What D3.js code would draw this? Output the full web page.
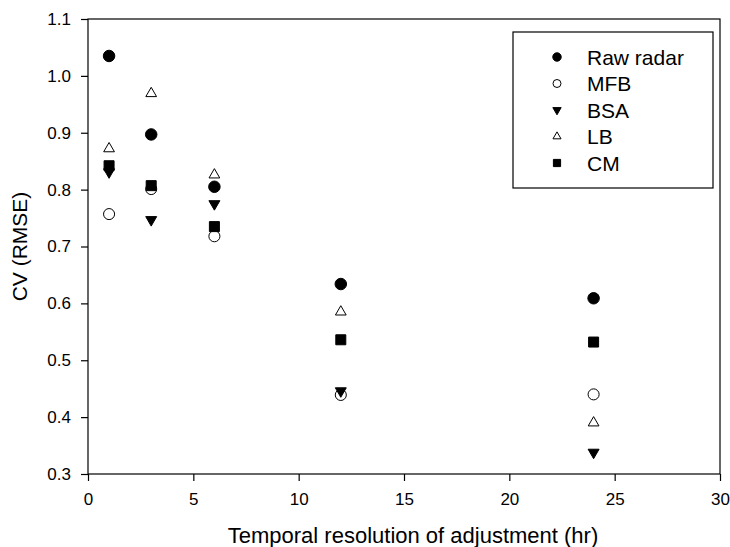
<!DOCTYPE html>
<html>
<head>
<meta charset="utf-8">
<script src="https://cdnjs.cloudflare.com/ajax/libs/d3/7.8.5/d3.min.js"></script>
<style>
  body { margin: 0; background: #fff; }
  svg { font-family: "Liberation Sans", Arial, sans-serif; }
</style>
</head>
<body>
<svg width="730" height="547"></svg>
<script>
// data
var hours = [1, 3, 6, 12, 24];
var rawRadar = [1.035, 0.897, 0.805, 0.634, 0.609];
var mfb = [0.757, 0.801, 0.718, 0.439, 0.440];
var bsa = [0.831, 0.747, 0.775, 0.446, 0.338];
var lb = [0.872, 0.969, 0.826, 0.585, 0.390];
var cm = [0.842, 0.807, 0.735, 0.536, 0.532];
var seriesNames = ['Raw radar', 'MFB', 'BSA', 'LB', 'CM'];
var xTicks = [0, 5, 10, 15, 20, 25, 30];
var yTicks = [0.3, 0.4, 0.5, 0.6, 0.7, 0.8, 0.9, 1.0, 1.1];

var svg = d3.select('svg');

var x = d3.scaleLinear().domain([0, 30]).range([88, 720]);
var y = d3.scaleLinear().domain([0.3, 1.1]).range([474, 19]);

// marker styles per series
var styles = [
    { type: d3.symbolCircle, size: 104, fill: 'black', rot: 0, lsize: 56 },
    { type: d3.symbolCircle, size: 96, fill: 'white', rot: 0, lsize: 50 },
    { type: d3.symbolTriangle, size: 52, fill: 'black', rot: 180, lsize: 30 },
    { type: d3.symbolTriangle, size: 50, fill: 'white', rot: 0, lsize: 28 },
    { type: d3.symbolSquare, size: 100, fill: 'black', rot: 0, lsize: 52 }
];
var allSeries = [rawRadar, mfb, bsa, lb, cm];

// frame
svg.append('rect')
    .attr('x', x(0))
    .attr('y', y(1.1))
    .attr('width', x(30) - x(0))
    .attr('height', y(0.3) - y(1.1))
    .style('fill', 'none')
    .style('stroke', 'black')
    .style('stroke-width', 1.2)

// axes
var yAxis = svg.append('g')
    .attr('transform', 'translate(' + x(0) + ',0)')
    .call(d3.axisLeft(y).tickValues(yTicks).tickSize(7).tickPadding(10).tickFormat(d3.format('.1f')))
var xAxis = svg.append('g')
    .attr('transform', 'translate(0,' + y(0.3) + ')')
    .call(d3.axisBottom(x).tickValues(xTicks).tickSize(7).tickPadding(12))

svg.selectAll('.domain').remove()
svg.selectAll('.tick line').style('stroke', 'black').style('stroke-width', 1.2)
svg.selectAll('.tick text')
    .style('font-family', '"Liberation Sans", Arial, sans-serif')
    .style('font-size', '17px')
    .style('fill', 'black')

// axis titles
svg.append('text')
    .text('Temporal resolution of adjustment (hr)')
    .attr('x', 413)
    .attr('y', 543)
    .attr('text-anchor', 'middle')
    .style('font-size', '22px')

svg.append('text')
    .text('CV (RMSE)')
    .attr('transform', 'translate(27,' + ((y(0.3) + y(1.1)) / 2) + ') rotate(-90)')
    .attr('text-anchor', 'middle')
    .style('font-size', '21px')

// points
allSeries.forEach(function (vals, i) {
    var st = styles[i];
    svg.append('g')
        .selectAll('path')
        .data(vals)
        .enter()
        .append('path')
        .attr('d', d3.symbol().type(st.type).size(st.size))
        .attr('transform', function (d, j) {
            return 'translate(' + x(hours[j]) + ',' + y(d) + ') rotate(' + st.rot + ')';
        })
        .style('fill', st.fill)
        .style('stroke', 'black')
        .style('stroke-width', 1)
});

// legend
var legend = svg.append('g')
    .attr('transform', 'translate(513,32)')

legend.append('rect')
    .attr('width', 200)
    .attr('height', 156)
    .style('fill', 'white')
    .style('stroke', 'black')
    .style('stroke-width', 1.2)

seriesNames.forEach(function (name, i) {
    var st = styles[i];
    var cy = 25 + i * 26.5;
    legend.append('path')
        .attr('d', d3.symbol().type(st.type).size(st.lsize))
        .attr('transform', 'translate(44,' + cy + ') rotate(' + st.rot + ')')
        .style('fill', st.fill)
        .style('stroke', 'black')
        .style('stroke-width', 1)
    legend.append('text')
        .text(name)
        .attr('x', 74)
        .attr('y', cy + 7.5)
        .style('font-size', '21px')
});
</script>
</body>
</html>
